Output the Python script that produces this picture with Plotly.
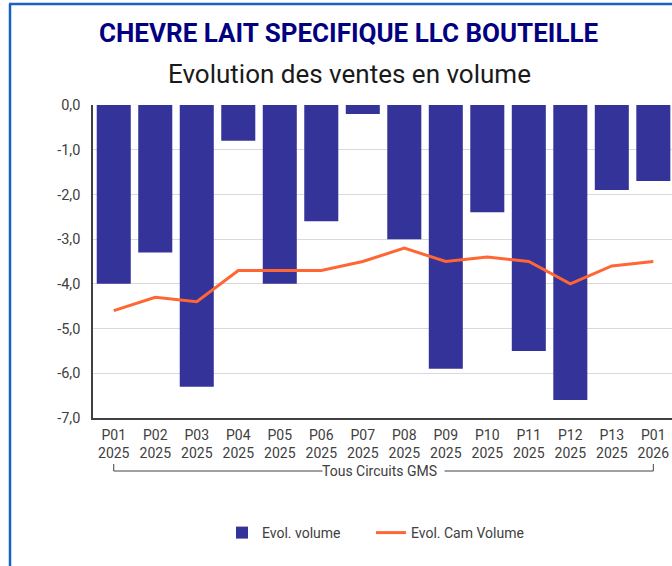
import plotly.graph_objects as go

# Periods (multi-line category labels)
periods = ["P01<br>2025", "P02<br>2025", "P03<br>2025", "P04<br>2025", "P05<br>2025",
           "P06<br>2025", "P07<br>2025", "P08<br>2025", "P09<br>2025", "P10<br>2025",
           "P11<br>2025", "P12<br>2025", "P13<br>2025", "P01<br>2026"]

# Evolution of volume sales (%)
evol_volume = [-4.0, -3.3, -6.3, -0.8, -4.0, -2.6, -0.2, -3.0, -5.9, -2.4, -5.5, -6.6, -1.9, -1.7]
# Evolution of cumulative moving annual volume (%)
evol_cam_volume = [-4.6, -4.3, -4.4, -3.7, -3.7, -3.7, -3.5, -3.2, -3.5, -3.4, -3.5, -4.0, -3.6, -3.5]

y_ticks = [0, -1, -2, -3, -4, -5, -6, -7]
y_tick_text = ["0,0", "-1,0", "-2,0", "-3,0", "-4,0", "-5,0", "-6,0", "-7,0"]

group_label = "Tous Circuits GMS"
title_text = "CHEVRE LAIT SPECIFIQUE LLC BOUTEILLE"
subtitle_text = "Evolution des ventes en volume"

FONT = "Roboto"
W, H = 672, 566
ML, MR, MT, MB = 93, 0, 105, 148
PW = W - ML - MR
PH = H - MT - MB


def px_x(px):
    return (px - ML) / PW


def px_y(py):
    return (H - MB - py) / PH


fig = go.Figure()

fig.add_trace(go.Bar(
    x=periods, y=evol_volume, name="Evol. volume",
    marker=dict(color="#333399", line=dict(width=0)),
    width=0.82, legendwidth=104,
))

fig.add_trace(go.Scatter(
    x=periods, y=evol_cam_volume, name="Evol. Cam Volume",
    mode="lines", line=dict(color="#FF6633", width=3),
    legendwidth=150,
))

shapes = []
# Card frame (left and top edges)
shapes.append(dict(type="line", xref="paper", yref="paper",
                   x0=px_x(10), x1=px_x(10), y0=px_y(4), y1=px_y(570),
                   line=dict(color="#1565C0", width=2.5)))
shapes.append(dict(type="line", xref="paper", yref="paper",
                   x0=px_x(9), x1=px_x(676), y0=px_y(4), y1=px_y(4),
                   line=dict(color="#1565C0", width=2.5)))

# Group bracket under the category labels
yb_top = px_y(464)
yb = px_y(471)
gap = 1.47
bracket = dict(color="#404040", width=1)
shapes += [
    dict(type="line", xref="x", yref="paper", x0=0, x1=0, y0=yb_top, y1=yb, line=bracket),
    dict(type="line", xref="x", yref="paper", x0=0, x1=6.5 - gap, y0=yb, y1=yb, line=bracket),
    dict(type="line", xref="x", yref="paper", x0=6.5 + gap, x1=13, y0=yb, y1=yb, line=bracket),
    dict(type="line", xref="x", yref="paper", x0=13, x1=13, y0=yb_top, y1=yb, line=bracket),
]

annotations = [
    dict(text=f"<b>{title_text}</b>", xref="paper", yref="paper",
         x=px_x(349), y=px_y(33), xanchor="center", yanchor="middle", showarrow=False,
         font=dict(family=FONT, size=26, color="#000080")),
    dict(text=subtitle_text, xref="paper", yref="paper",
         x=px_x(349), y=px_y(74), xanchor="center", yanchor="middle", showarrow=False,
         font=dict(family=FONT, size=26, color="#1a1a1a")),
    dict(text=group_label, xref="x", yref="paper", x=6.4, y=yb,
         xanchor="center", yanchor="middle", showarrow=False,
         font=dict(family=FONT, size=14, color="#404040")),
]

fig.update_layout(
    width=W, height=H,
    margin=dict(l=ML, r=MR, t=MT, b=MB, pad=0),
    paper_bgcolor="white", plot_bgcolor="white",
    font=dict(family=FONT, size=14, color="#404040"),
    showlegend=True,
    legend=dict(orientation="h", x=px_x(222), y=px_y(533), xanchor="left", yanchor="middle",
                font=dict(family=FONT, size=14, color="#404040"),
                bgcolor="rgba(0,0,0,0)"),
    shapes=shapes,
    annotations=annotations,
)

fig.update_xaxes(
    type="category", range=[-0.5, 13.45],
    showline=True, linecolor="#404040", linewidth=1.5,
    showgrid=False, ticks="", ticklabelstandoff=3,
    tickfont=dict(family=FONT, size=14, color="#404040"),
)
fig.update_yaxes(
    range=[-7, 0], tickvals=y_ticks, ticktext=y_tick_text,
    showline=True, linecolor="#404040", linewidth=1.5,
    showgrid=True, gridcolor="#D9D9D9", gridwidth=1,
    zeroline=False, ticks="", ticklabelstandoff=8,
    tickfont=dict(family=FONT, size=14.5, color="#404040"),
)

fig.write_html("out.html")
